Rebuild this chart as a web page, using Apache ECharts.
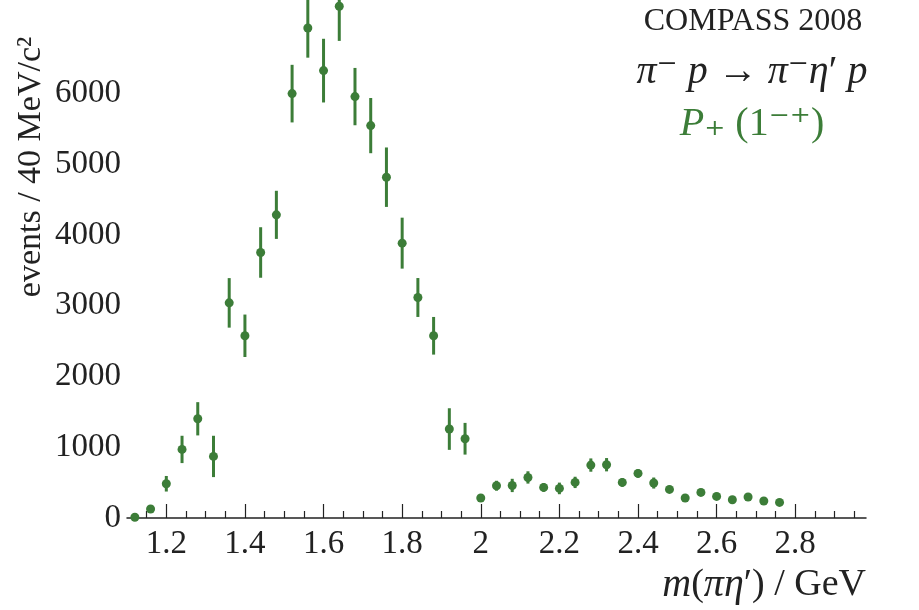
<!DOCTYPE html>
<html>
<head>
<meta charset="utf-8">
<script src="https://cdn.jsdelivr.net/npm/echarts@6/dist/echarts.min.js"></script>
<style>
  html, body { margin: 0; padding: 0; background: #fff; }
  #chart { width: 919px; height: 610px; }
</style>
</head>
<body>
<div id="chart"></div>
<script>
// bin centres, m(pi eta') in GeV
var massBins = [1.12, 1.16, 1.20, 1.24, 1.28, 1.32, 1.36, 1.40, 1.44, 1.48,
    1.52, 1.56, 1.60, 1.64, 1.68, 1.72, 1.76, 1.80, 1.84, 1.88,
    1.92, 1.96, 2.00, 2.04, 2.08, 2.12, 2.16, 2.20, 2.24, 2.28,
    2.32, 2.36, 2.40, 2.44, 2.48, 2.52, 2.56, 2.60, 2.64, 2.68,
    2.72, 2.76];
// events / 40 MeV/c^2
var counts = [10, 127, 484, 969, 1402, 870, 3040, 2575, 3752, 4284,
    5997, 6925, 6322, 7232, 5955, 5545, 4816, 3884, 3116, 2575,
    1257, 1120, 282, 456, 460, 573, 432, 418, 503, 748,
    753, 503, 630, 494, 404, 282, 362, 305, 258, 297,
    240, 220];
var errors = [10, 30, 110, 193, 235, 292, 350, 300, 357, 340,
    407, 420, 450, 490, 405, 390, 420, 360, 275, 266,
    294, 224, 50, 70, 94, 87, 60, 82, 80, 94,
    94, 60, 60, 78, 50, 40, 50, 50, 40, 55,
    40, 40];
var majorTicks = [1.2, 1.4, 1.6, 1.8, 2.0, 2.2, 2.4, 2.6, 2.8];
var minorTicks = [1.15, 1.25, 1.3, 1.35, 1.45, 1.5, 1.55, 1.65, 1.7, 1.75,
    1.85, 1.9, 1.95, 2.05, 2.1, 2.15, 2.25, 2.3, 2.35, 2.45, 2.5, 2.55,
    2.65, 2.7, 2.75, 2.85, 2.9, 2.95];

var green = '#3c7d38';
var ink = '#222';
var serif = '"Liberation Serif", "DejaVu Serif", serif';

var dom = document.getElementById('chart');
var myChart = echarts.init(dom);

var points = massBins.map(function (m, i) { return [m, counts[i]]; });
var bars = massBins.map(function (m, i) { return [m, counts[i], errors[i]]; });

function renderErrorBar(params, api) {
    var x = api.value(0);
    var y = api.value(1);
    var e = api.value(2);
    var top = api.coord([x, y + e]);
    var bottom = api.coord([x, y - e]);
    return {
        type: 'line',
        shape: { x1: top[0], y1: top[1], x2: bottom[0], y2: bottom[1] },
        style: { stroke: green, lineWidth: 3 }
    };
}

var option = {
    animation: false,
    grid: { left: 127, right: 53, top: 0, bottom: 92 },
    xAxis: [
        {
            type: 'value',
            min: 1.1,
            max: 2.98,
            position: 'bottom',
            splitLine: { show: false },
            axisLine: { show: true, lineStyle: { color: ink, width: 1.5 } },
            axisTick: {
                show: true, inside: true, length: 14,
                customValues: majorTicks,
                lineStyle: { color: ink, width: 1.2 }
            },
            axisLabel: {
                customValues: majorTicks,
                margin: 10,
                color: ink,
                fontFamily: serif,
                fontSize: 33,
                formatter: function (v) { return String(Math.round(v * 10) / 10); }
            }
        },
        {
            type: 'value',
            min: 1.1,
            max: 2.98,
            position: 'bottom',
            splitLine: { show: false },
            axisLine: { show: false },
            axisLabel: { show: false },
            axisTick: {
                show: true, inside: true, length: 7,
                customValues: minorTicks,
                lineStyle: { color: ink, width: 1.2 }
            }
        }
    ],
    yAxis: {
        type: 'value',
        min: 0,
        max: 7320,
        interval: 1000,
        splitLine: { show: false },
        axisLine: { show: false },
        axisTick: { show: false },
        axisLabel: {
            margin: 6,
            color: ink,
            fontFamily: serif,
            fontSize: 33,
            showMaxLabel: false,
            formatter: function (v) { return v > 6000 ? '' : String(v); }
        }
    },
    graphic: [
        {
            type: 'text',
            x: 31, y: 167,
            rotation: Math.PI / 2,
            style: {
                text: 'events / 40 MeV/c²',
                font: '34px ' + serif,
                fill: ink,
                textAlign: 'center',
                textVerticalAlign: 'middle'
            }
        },
        {
            type: 'text',
            x: 866, y: 585,
            style: {
                text: '{i|m}({i|πη}′) / GeV',
                textAlign: 'right',
                textVerticalAlign: 'middle',
                font: '38px ' + serif,
                fill: ink,
                rich: { i: { fontStyle: 'italic', fontSize: 40, fontFamily: serif, fill: ink } }
            }
        },
        {
            type: 'text',
            x: 753, y: 22,
            style: {
                text: 'COMPASS 2008',
                font: '32px ' + serif,
                fill: ink,
                textAlign: 'center',
                textVerticalAlign: 'middle'
            }
        },
        {
            type: 'text',
            x: 752, y: 72,
            style: {
                text: '{i|π}⁻ {i|p} → {i|π}⁻{i|η}′ {i|p}',
                font: '40px ' + serif,
                fill: ink,
                textAlign: 'center',
                textVerticalAlign: 'middle',
                rich: { i: { fontStyle: 'italic', fontSize: 40, fontFamily: serif, fill: ink } }
            }
        },
        {
            type: 'text',
            x: 752, y: 124,
            style: {
                text: '{i|P}₊ (1⁻⁺)',
                font: '40px ' + serif,
                fill: green,
                textAlign: 'center',
                textVerticalAlign: 'middle',
                rich: { i: { fontStyle: 'italic', fontSize: 40, fontFamily: serif, fill: green } }
            }
        }
    ],
    series: [
        {
            name: 'error',
            type: 'custom',
            xAxisIndex: 0,
            renderItem: renderErrorBar,
            data: bars,
            z: 2
        },
        {
            name: 'P+ (1-+)',
            type: 'scatter',
            xAxisIndex: 0,
            symbol: 'circle',
            symbolSize: 9,
            itemStyle: { color: green, opacity: 1 },
            data: points,
            z: 3
        }
    ]
};

myChart.setOption(option);
</script>
</body>
</html>
